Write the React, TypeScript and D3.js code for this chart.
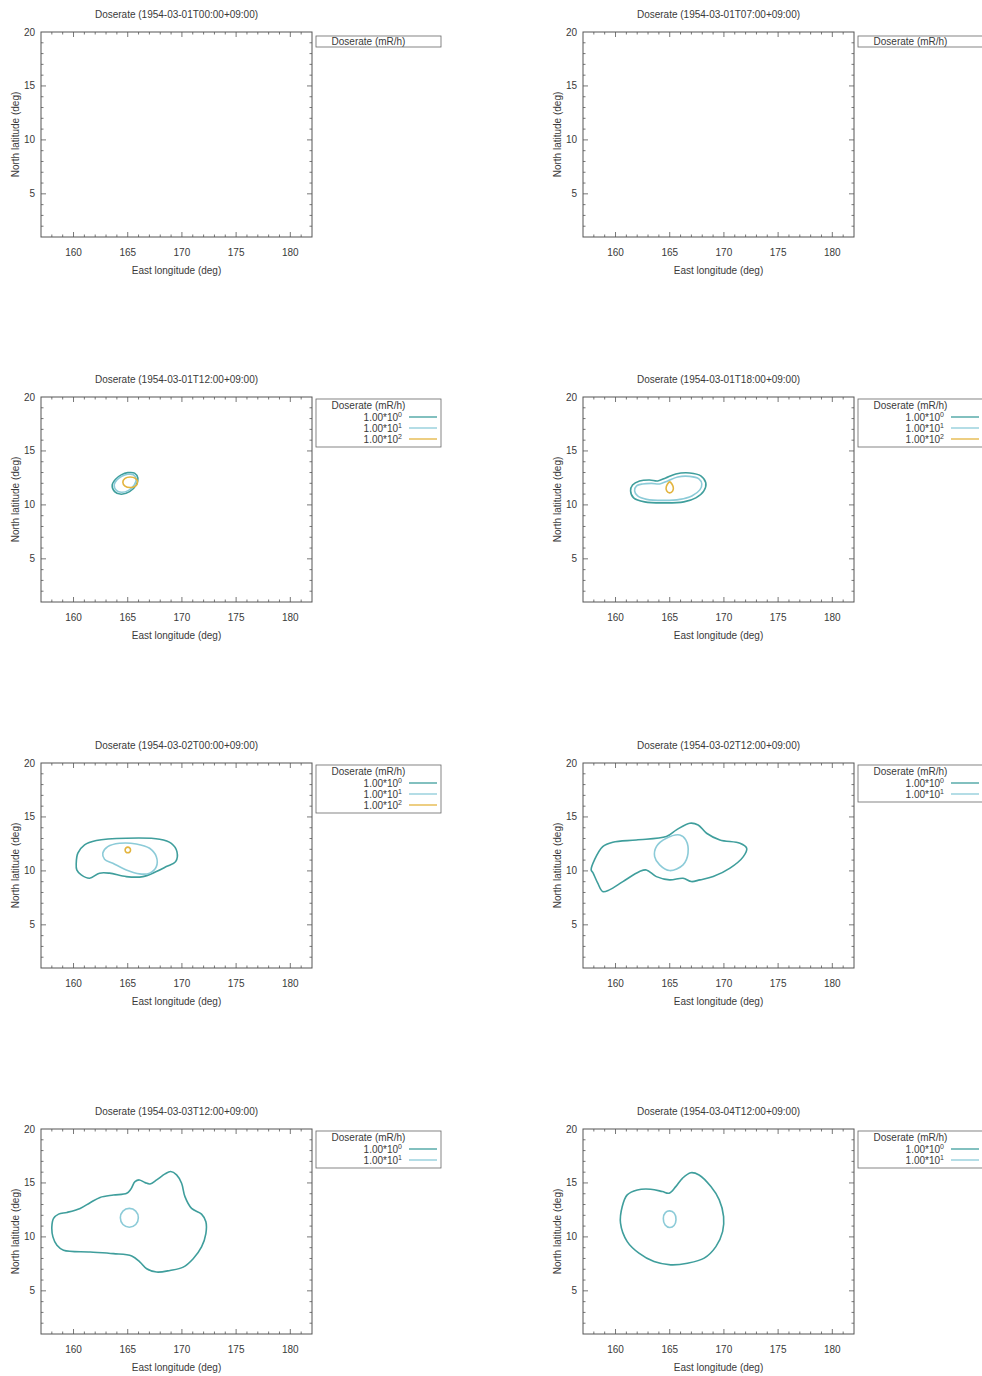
import React from 'react';
import * as d3 from 'd3';

type Pt = [number, number];

// panel titles (time stamps), left-to-right, top-to-bottom
const times = [
  '1954-03-01T00:00+09:00',
  '1954-03-01T07:00+09:00',
  '1954-03-01T12:00+09:00',
  '1954-03-01T18:00+09:00',
  '1954-03-02T00:00+09:00',
  '1954-03-02T12:00+09:00',
  '1954-03-03T12:00+09:00',
  '1954-03-04T12:00+09:00',
];

const levelExp = ['0', '1', '2'];
const levelColors = ['#3f9e9c', '#8ccbd8', '#e3b43e'];
// how many levels each panel legend lists
const panelLevels = [0, 0, 3, 3, 3, 2, 2, 2];

const xTicks = [160, 165, 170, 175, 180];
const yTicks = [5, 10, 15, 20];

// 03-01T12
const c3a: Pt[] = [[163.57, 11.85], [163.79, 11.23], [164.4, 10.99], [165.17, 11.23], [165.79, 11.85], [165.94, 12.47], [165.63, 12.94], [165.01, 12.99], [164.4, 12.78], [163.88, 12.38]];
const c3b: Pt[] = [[163.75, 11.85], [163.95, 11.35], [164.42, 11.17], [165.08, 11.35], [165.62, 11.87], [165.78, 12.42], [165.52, 12.8], [165.0, 12.84], [164.45, 12.66], [164.0, 12.32]];
const c3c: Pt[] = [[164.55, 12.1], [164.75, 12.45], [165.23, 12.59], [165.71, 12.45], [165.91, 12.1], [165.71, 11.75], [165.23, 11.61], [164.75, 11.75]];

// 03-01T18
const c4a: Pt[] = [[161.39, 11.3], [161.57, 11.85], [162.22, 12.22], [163.15, 12.31], [163.89, 12.22], [164.63, 12.5], [165.56, 12.87], [166.85, 12.96], [167.87, 12.69], [168.33, 12.04], [168.15, 11.3], [167.41, 10.65], [166.3, 10.28], [164.54, 10.19], [162.69, 10.28], [161.67, 10.65]];
const c4b: Pt[] = [[161.76, 11.3], [161.94, 11.76], [162.5, 11.94], [163.33, 11.99], [164.07, 11.94], [164.81, 12.22], [165.74, 12.59], [166.85, 12.64], [167.69, 12.41], [167.96, 11.94], [167.78, 11.39], [167.04, 10.83], [165.93, 10.51], [164.54, 10.42], [162.87, 10.51], [162.04, 10.83]];
const c4c: Pt[] = [[165.0, 12.13], [164.68, 11.67], [164.72, 11.3], [165.0, 11.11], [165.28, 11.3], [165.32, 11.67]];

// 03-02T00
const c5a: Pt[] = [[160.25, 10.71], [160.4, 11.64], [161.02, 12.41], [162.1, 12.81], [164.87, 13.03], [167.94, 12.94], [169.02, 12.56], [169.54, 11.79], [169.42, 10.86], [168.56, 10.4], [167.64, 9.94], [166.4, 9.47], [164.87, 9.47], [163.32, 9.79], [162.4, 9.79], [161.48, 9.32], [160.71, 9.63], [160.3, 10.09]];
const c5b: Pt[] = [[162.7, 11.64], [163.16, 12.25], [164.25, 12.56], [165.79, 12.5], [167.02, 12.1], [167.64, 11.32], [167.64, 10.4], [167.02, 9.79], [166.1, 9.72], [164.87, 10.09], [163.63, 10.71], [162.86, 11.08]];
const c5c: Pt[] = [[164.76, 11.94], [164.84, 12.14], [165.01, 12.2], [165.18, 12.14], [165.26, 11.94], [165.18, 11.74], [165.01, 11.68], [164.84, 11.74]];

// 03-02T12
const c6a: Pt[] = [[157.75, 10.09], [158.06, 11.02], [158.82, 12.25], [159.75, 12.66], [161.92, 12.87], [164.69, 13.18], [165.62, 13.8], [166.85, 14.42], [167.62, 14.26], [168.4, 13.49], [169.63, 12.87], [171.48, 12.56], [172.1, 12.1], [171.79, 11.32], [170.56, 10.25], [169.01, 9.47], [167.78, 9.17], [167.0, 9.01], [166.23, 9.32], [164.99, 9.17], [163.77, 9.47], [162.84, 10.09], [162.22, 9.94], [160.68, 9.01], [159.44, 8.24], [158.82, 8.08], [158.36, 8.86], [157.9, 9.86]];
const c6b: Pt[] = [[163.77, 12.25], [164.69, 13.03], [165.93, 13.33], [166.48, 12.87], [166.69, 11.64], [166.23, 10.56], [164.99, 10.03], [164.07, 10.56], [163.61, 11.32]];

// 03-03T12
const c7a: Pt[] = [[158.0, 10.93], [158.16, 11.71], [158.62, 12.11], [159.39, 12.27], [160.61, 12.64], [161.53, 13.17], [162.45, 13.66], [163.68, 13.88], [164.91, 14.04], [165.28, 14.41], [165.67, 15.12], [166.07, 15.28], [166.6, 15.03], [167.06, 14.91], [167.67, 15.28], [168.44, 15.84], [168.96, 16.06], [169.51, 15.75], [169.97, 14.97], [170.28, 13.73], [170.89, 12.64], [171.81, 12.11], [172.21, 11.4], [172.21, 10.31], [171.81, 9.07], [171.04, 7.98], [170.12, 7.2], [168.9, 6.89], [167.67, 6.74], [166.75, 7.05], [166.13, 7.67], [165.37, 8.23], [163.68, 8.45], [161.53, 8.6], [159.08, 8.76], [158.47, 9.22], [158.1, 10.0]];
const c7b: Pt[] = [[164.32, 11.77], [164.56, 12.39], [165.15, 12.64], [165.74, 12.39], [165.98, 11.77], [165.74, 11.15], [165.15, 10.9], [164.56, 11.15]];

// 03-04T12
const c8a: Pt[] = [[160.46, 11.27], [160.62, 12.81], [161.08, 13.89], [162.01, 14.35], [163.24, 14.42], [164.32, 14.2], [164.94, 14.05], [165.56, 14.66], [166.17, 15.43], [166.94, 15.95], [167.71, 15.74], [168.8, 14.66], [169.57, 13.43], [169.97, 11.88], [169.88, 10.49], [169.26, 9.1], [168.18, 8.03], [166.64, 7.56], [165.09, 7.41], [163.55, 7.71], [162.16, 8.49], [161.08, 9.56]];
const c8b: Pt[] = [[164.41, 11.7], [164.6, 12.25], [165.0, 12.41], [165.42, 12.2], [165.58, 11.6], [165.4, 11.05], [165.0, 10.87], [164.58, 11.1]];

const panelContours: { level: number; pts: Pt[] }[][] = [
  [],
  [],
  [{ level: 0, pts: c3a }, { level: 1, pts: c3b }, { level: 2, pts: c3c }],
  [{ level: 0, pts: c4a }, { level: 1, pts: c4b }, { level: 2, pts: c4c }],
  [{ level: 0, pts: c5a }, { level: 1, pts: c5b }, { level: 2, pts: c5c }],
  [{ level: 0, pts: c6a }, { level: 1, pts: c6b }],
  [{ level: 0, pts: c7a }, { level: 1, pts: c7b }],
  [{ level: 0, pts: c8a }, { level: 1, pts: c8b }],
];

const colX = [41, 583];
const rowY = [32, 397, 763, 1129];
const W = 271;
const H = 205;
const font = '"Liberation Sans", Arial, sans-serif';
const ink = '#3a3a3a';

function Panel({ i }: { i: number }) {
  const x0 = colX[i % 2];
  const y0 = rowY[Math.floor(i / 2)];
  const x = d3.scaleLinear().domain([157, 182]).range([0, W]);
  const y = d3.scaleLinear().domain([1, 20]).range([H, 0]);
  const line = d3
    .line<Pt>()
    .x((d) => x(d[0]))
    .y((d) => y(d[1]))
    .curve(d3.curveCatmullRomClosed.alpha(0.5));

  const xMinor = d3.range(158, 182);
  const yMinor = d3.range(2, 20);
  const nLev = panelLevels[i];
  const lgX = W + 4;
  const lgW = 125;
  const lgH = nLev === 0 ? 11 : 15 + nLev * 11;

  return (
    <g transform={`translate(${x0},${y0})`}>
      <text x={W / 2} y={-14} textAnchor="middle" fontSize={10} fill={ink}>
        Doserate ({times[i]})
      </text>

      {panelContours[i].map((c, k) => (
        <path key={k} d={line(c.pts) || ''} fill="none" stroke={levelColors[c.level]} strokeWidth={1.6} />
      ))}

      <rect x={0} y={0} width={W} height={H} fill="none" stroke="#555" strokeWidth={1} />

      {xMinor.map((v) => {
        const len = v % 5 === 0 ? 5 : 2.5;
        return (
          <g key={'x' + v} stroke="#555" strokeWidth={0.8}>
            <line x1={x(v)} x2={x(v)} y1={H} y2={H - len} />
            <line x1={x(v)} x2={x(v)} y1={0} y2={len} />
          </g>
        );
      })}
      {yMinor.map((v) => {
        const len = v % 5 === 0 ? 5 : 2.5;
        return (
          <g key={'y' + v} stroke="#555" strokeWidth={0.8}>
            <line x1={0} x2={len} y1={y(v)} y2={y(v)} />
            <line x1={W} x2={W - len} y1={y(v)} y2={y(v)} />
          </g>
        );
      })}

      {xTicks.map((v) => (
        <text key={'xt' + v} x={x(v)} y={H + 19} textAnchor="middle" fontSize={10} fill={ink}>
          {v}
        </text>
      ))}
      {yTicks.map((v) => (
        <text key={'yt' + v} x={-6} y={y(v) + 3.5} textAnchor="end" fontSize={10} fill={ink}>
          {v}
        </text>
      ))}

      <text x={W / 2} y={H + 37} textAnchor="middle" fontSize={10} fill={ink}>
        East longitude (deg)
      </text>
      <text
        transform={`translate(${-22},${H / 2}) rotate(-90)`}
        textAnchor="middle"
        fontSize={10}
        fill={ink}
      >
        North latitude (deg)
      </text>

      <g transform={`translate(${lgX},${nLev === 0 ? 4 : 2})`}>
        <rect x={0} y={0} width={lgW} height={lgH} fill="none" stroke="#666" strokeWidth={0.8} />
        <text x={lgW / 2 - 10} y={nLev === 0 ? 9 : 10} textAnchor="middle" fontSize={10} fill={ink}>
          Doserate (mR/h)
        </text>
        {levelExp.slice(0, nLev).map((e, k) => (
          <g key={k}>
            <text x={86} y={18 + k * 11 + 3.5} textAnchor="end" fontSize={10} fill={ink}>
              1.00*10<tspan dy={-4} fontSize={7}>{e}</tspan>
            </text>
            <line x1={93} x2={121} y1={18 + k * 11} y2={18 + k * 11} stroke={levelColors[k]} strokeWidth={1.3} />
          </g>
        ))}
      </g>
    </g>
  );
}

export default function App() {
  return (
    <svg
      width={982}
      height={1376}
      style={{ position: 'absolute', left: 0, top: 0, background: '#fff', fontFamily: font }}
    >
      {times.map((_, i) => (
        <Panel key={i} i={i} />
      ))}
    </svg>
  );
}
